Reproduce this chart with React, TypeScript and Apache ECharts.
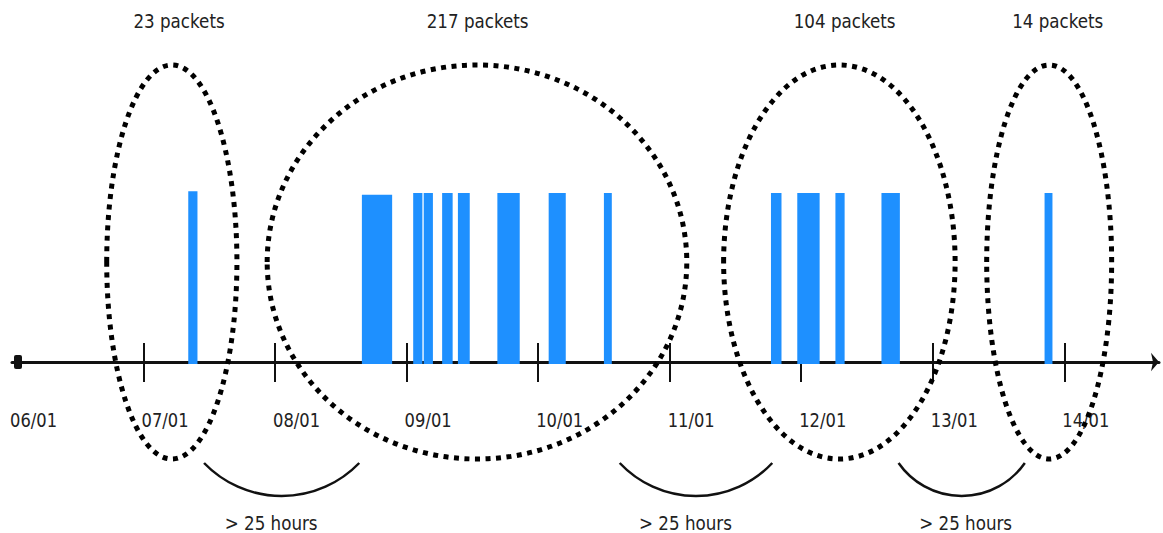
import React, { useEffect, useRef } from 'react';
import * as echarts from 'echarts';

// ---- data ----
const tickDays = [6, 7, 8, 9, 10, 11, 12, 13, 14];
const dateLabels = ['06/01', '07/01', '08/01', '09/01', '10/01', '11/01', '12/01', '13/01', '14/01'];
const upperTickDays = [7, 8, 9, 10, 11, 13, 14];
const lowerTickDays = [7, 8, 9, 10, 11, 12, 13, 14];

const barStart = [7.34, 8.66, 9.05, 9.13, 9.27, 9.39, 9.69, 10.08, 10.5, 11.77, 11.97, 12.26, 12.61, 13.85];
const barEnd = [7.41, 8.89, 9.12, 9.2, 9.35, 9.48, 9.86, 10.21, 10.56, 11.85, 12.14, 12.33, 12.75, 13.91];
const barHeight = [1.01, 0.99, 1, 1, 1, 1, 1, 1, 1, 1, 1, 1, 1, 1];

const packetCounts = [23, 217, 104, 14];
const clusterStart = [6.72, 7.94, 11.41, 13.41];
const clusterEnd = [7.71, 11.13, 13.17, 14.36];
const countLabelDay = [7.27, 9.54, 12.33, 13.95];

const gapLabels = ['> 25 hours', '> 25 hours', '> 25 hours'];
const gapStart = [7.46, 10.62, 12.74];
const gapEnd = [8.64, 11.78, 13.7];
const gapLabelDay = [7.97, 11.12, 13.25];

const FONT = "'DejaVu Sans', sans-serif";
const TEXT_COLOR = '#222';

export default function App() {
  const ref = useRef<HTMLDivElement>(null);

  useEffect(() => {
    if (!ref.current) return;
    const chart = echarts.init(ref.current, null, { renderer: 'svg' });
    const barData = barStart.map((s, i) => [s, barEnd[i], barHeight[i]]);

    const option: any = {
      animation: false,
      backgroundColor: '#fff',
      grid: { left: 12, right: 4, top: 193, bottom: 171 },
      xAxis: [
        {
          type: 'value',
          min: 6,
          max: 14.72,
          position: 'bottom',
          splitLine: { show: false },
          axisLine: {
            show: true,
            onZero: false,
            symbol: ['roundRect', 'arrow'],
            symbolSize: [14, 8],
            symbolOffset: [6, 0],
            lineStyle: { color: '#111', width: 3 },
          },
          axisTick: {
            show: true,
            inside: false,
            length: 20,
            customValues: lowerTickDays,
            lineStyle: { color: '#111', width: 2 },
          },
          axisLabel: { show: false },
        },
        {
          type: 'value',
          min: 6,
          max: 14.72,
          position: 'bottom',
          splitLine: { show: false },
          axisLine: { show: false, onZero: false },
          axisTick: {
            show: true,
            inside: true,
            length: 19,
            customValues: upperTickDays,
            lineStyle: { color: '#111', width: 2 },
          },
          axisLabel: { show: false },
        },
      ],
      yAxis: { type: 'value', min: 0, max: 1, show: false },
      series: [
        {
          type: 'custom',
          xAxisIndex: 0,
          z: 3,
          encode: { x: [0, 1], y: 2 },
          data: barData,
          renderItem: (params: any, api: any) => {
            const p1 = api.coord([api.value(0), api.value(2)]);
            const p2 = api.coord([api.value(1), 0]);
            return {
              type: 'rect',
              shape: { x: p1[0], y: p1[1], width: p2[0] - p1[0], height: p2[1] - p1[1] + 2 },
              style: { fill: '#1e90ff' },
            };
          },
        },
      ],
    };
    chart.setOption(option);

    const px = (d: number) => chart.convertToPixel({ xAxisIndex: 0 }, d) as number;
    const axisY = chart.convertToPixel({ yAxisIndex: 0 }, 0) as number;

    const graphics: any[] = [];
    // date labels
    tickDays.forEach((d, i) => {
      graphics.push({
        type: 'text',
        x: px(d) - 2,
        y: axisY + 59,
        scaleX: 0.86,
        style: {
          text: dateLabels[i],
          fontSize: 19,
          fontFamily: FONT,
          fill: TEXT_COLOR,
          align: 'left',
          verticalAlign: 'middle',
        },
      });
    });
    // cluster ellipses
    clusterStart.forEach((s, i) => {
      const x1 = px(s);
      const x2 = px(clusterEnd[i]);
      graphics.push({
        type: 'ellipse',
        shape: { cx: (x1 + x2) / 2, cy: 262, rx: (x2 - x1) / 2, ry: 197 },
        style: { fill: 'none', stroke: '#000', lineWidth: 5, lineDash: [5, 5.5] },
        z: 10,
      });
      graphics.push({
        type: 'text',
        x: px(countLabelDay[i]),
        y: 21,
        scaleX: 0.88,
        style: {
          text: `${packetCounts[i]} packets`,
          fontSize: 19,
          fontFamily: FONT,
          fill: TEXT_COLOR,
          align: 'center',
          verticalAlign: 'middle',
        },
      });
    });
    // gap arcs
    gapStart.forEach((s, i) => {
      const x1 = px(s);
      const x2 = px(gapEnd[i]);
      const half = (x2 - x1) / 2;
      const sag = 33;
      const yTop = 463;
      const r = (half * half + sag * sag) / (2 * sag);
      const cy = yTop + sag - r;
      const a = Math.atan2(yTop - cy, half);
      graphics.push({
        type: 'arc',
        shape: { cx: (x1 + x2) / 2, cy, r, startAngle: a, endAngle: Math.PI - a, clockwise: true },
        style: { fill: 'none', stroke: '#111', lineWidth: 2.5 },
      });
      graphics.push({
        type: 'text',
        x: px(gapLabelDay[i]),
        y: 523,
        scaleX: 0.88,
        style: {
          text: gapLabels[i],
          fontSize: 19,
          fontFamily: FONT,
          fill: TEXT_COLOR,
          align: 'center',
          verticalAlign: 'middle',
        },
      });
    });

    chart.setOption({ graphic: graphics });

    return () => {
      chart.dispose();
    };
  }, []);

  return (
    <div
      ref={ref}
      style={{ position: 'fixed', left: 0, top: 0, width: 1163, height: 533, background: '#fff' }}
    />
  );
}
